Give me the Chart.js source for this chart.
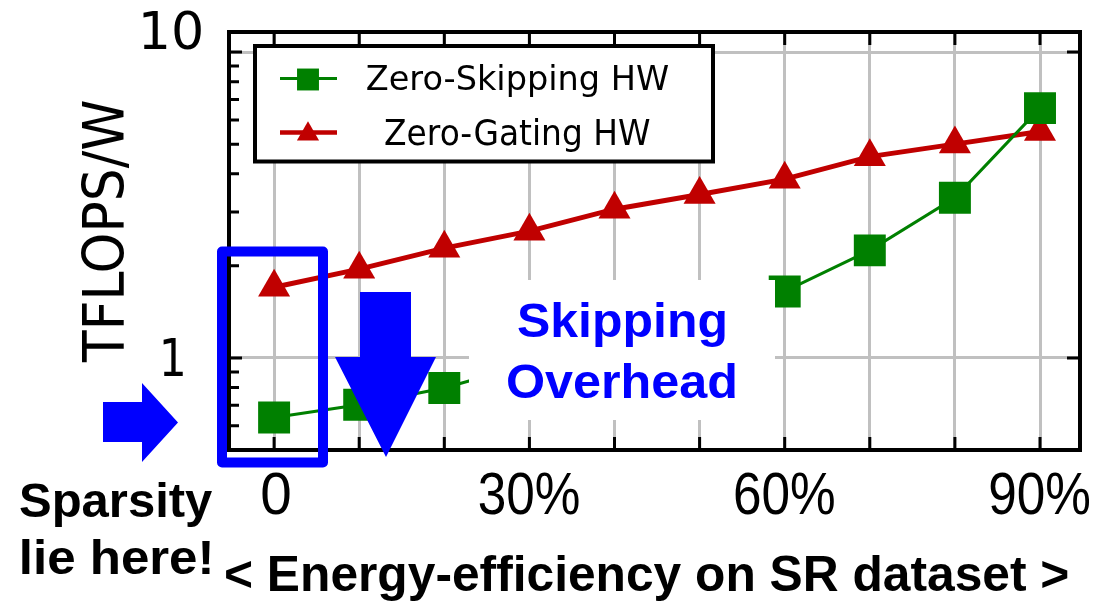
<!DOCTYPE html>
<html><head><meta charset="utf-8">
<script src="https://cdn.jsdelivr.net/npm/chart.js@4.4.0/dist/chart.umd.min.js"></script>
<style>html,body{margin:0;padding:0;background:#fff;overflow:hidden}#wrap{width:1112px;height:603px;position:relative}</style>
</head><body><div id="wrap"><canvas id="c" width="1112" height="603"></canvas></div>
<script>
// ---- data ----
const sparsityPct = [0, 10, 20, 30, 40, 50, 60, 70, 80, 90];
const zeroSkipping = [0.639, 0.703, 0.797, null, null, null, 1.650, 2.247, 3.338, 6.557];
const zeroGating = [1.703, 1.951, 2.285, 2.597, 3.064, 3.420, 3.842, 4.551, 5.001, 5.495];
const seriesNames = ['Zero-Skipping HW', 'Zero-Gating HW'];
const xTickValues = [0, 10, 20, 30, 40, 50, 60, 70, 80, 90];
const xLabelValues = [0, 30, 60, 90];
const xLabelTexts = ['0', '30%', '60%', '90%'];
const yMajorValues = [1, 10];
const yLabelTexts = ['1', '10'];
const yMinorValues = [0.6, 0.7, 0.8, 0.9, 2, 3, 4, 5, 6, 7, 8, 9];
const xTitle = '< Energy-efficiency on SR dataset >';
const yTitle = 'TFLOPS/W';
const noteText = ['Skipping', 'Overhead'];
const sideNote = ['Sparsity', 'lie here!'];

const GREEN = '#008000', RED = '#C00000', BLUE = '#0000FF';
const SANS = '"Liberation Sans", Arial, sans-serif';
const HUM = '"DejaVu Sans", "Noto Sans", sans-serif';

function fitText(ctx, txt, o) {
  const capRatio = o.capRatio || 0.716;
  const size = o.cap / capRatio;
  ctx.font = `${o.weight || 'normal'} ${size}px ${o.family || SANS}`;
  ctx.textAlign = 'left';
  ctx.textBaseline = 'alphabetic';
  const m = ctx.measureText(txt);
  const ink = m.actualBoundingBoxLeft + m.actualBoundingBoxRight;
  let left = o.left, width = o.width;
  if (o.cx !== undefined) left = o.cx - width / 2;
  const sx = width / ink;
  ctx.save();
  ctx.fillStyle = o.color || '#000';
  ctx.translate(left, o.base);
  ctx.scale(sx, 1);
  ctx.fillText(txt, m.actualBoundingBoxLeft, 0);
  ctx.restore();
}

const decor = {
  id: 'decor',
  afterDatasetsDraw(chart) {
    const ctx = chart.ctx, a = chart.chartArea;
    const xs = chart.scales.x, ys = chart.scales.y;
    ctx.save();
    // white box behind annotation
    ctx.fillStyle = '#fff';
    ctx.fillRect(469, 280, 306, 140);
    fitText(ctx, noteText[0], {cx: 621.5, width: 207, base: 336.5, cap: 35, weight: 'bold', color: BLUE});
    fitText(ctx, noteText[1], {cx: 621.5, width: 227, base: 397.5, cap: 35, weight: 'bold', color: BLUE});

    // frame
    ctx.strokeStyle = '#000';
    ctx.lineWidth = 4;
    ctx.strokeRect(a.left, a.top, a.right - a.left, a.bottom - a.top);
    ctx.lineWidth = 3;
    ctx.beginPath();
    xTickValues.forEach(v => {
      const x = xs.getPixelForValue(v);
      ctx.moveTo(x, a.top); ctx.lineTo(x, a.top + 13);
      ctx.moveTo(x, a.bottom); ctx.lineTo(x, a.bottom - 13);
    });
    yMajorValues.forEach(v => {
      const y = ys.getPixelForValue(v);
      ctx.moveTo(a.left, y); ctx.lineTo(a.left + 13, y);
      ctx.moveTo(a.right, y); ctx.lineTo(a.right - 13, y);
    });
    yMinorValues.forEach(v => {
      const y = ys.getPixelForValue(v);
      ctx.moveTo(a.left, y); ctx.lineTo(a.left + 10, y);
    });
    ctx.stroke();

    // legend
    ctx.fillStyle = '#fff';
    ctx.fillRect(255, 46, 458, 115.5);
    ctx.lineWidth = 4;
    ctx.strokeStyle = '#000';
    ctx.strokeRect(255, 46, 458, 115.5);
    const ds = chart.data.datasets;
    const rows = [78.5, 132.5];
    ds.forEach((d, i) => {
      const y = rows[i];
      ctx.strokeStyle = d.borderColor;
      ctx.lineWidth = i === 0 ? 3 : 4.5;
      ctx.beginPath(); ctx.moveTo(280, y); ctx.lineTo(337, y); ctx.stroke();
      ctx.fillStyle = d.backgroundColor;
      Chart.helpers.drawPoint(ctx, {pointStyle: d.pointStyle, radius: i === 0 ? 15.5 : 12.8, rotation: 0, borderWidth: 0}, 308, i === 0 ? 79.5 : 134);
    });
    fitText(ctx, ds[0].label, {left: 366.7, width: 301.6, base: 90, cap: 25, family: HUM, capRatio: 0.729});
    fitText(ctx, ds[1].label, {left: 385, width: 265, base: 144.5, cap: 25.5, family: HUM, capRatio: 0.729});

    // blue rectangle around 0%
    ctx.strokeStyle = BLUE;
    ctx.lineWidth = 10;
    ctx.lineJoin = 'round';
    ctx.strokeRect(222, 251.5, 101, 211);

    // blue down arrow
    ctx.fillStyle = BLUE;
    ctx.beginPath();
    ctx.moveTo(360, 292); ctx.lineTo(411, 292); ctx.lineTo(411, 357); ctx.lineTo(436, 357);
    ctx.lineTo(386, 457); ctx.lineTo(335, 357); ctx.lineTo(360, 357); ctx.closePath();
    ctx.fill();
    // blue right arrow
    ctx.beginPath();
    ctx.moveTo(103, 402); ctx.lineTo(142, 402); ctx.lineTo(142, 383); ctx.lineTo(178, 422.5);
    ctx.lineTo(142, 462); ctx.lineTo(142, 442); ctx.lineTo(103, 442); ctx.closePath();
    ctx.fill();

    // y tick labels
    yMajorValues.forEach((v, i) => {
      const cy = v === 10 ? a.top - 2 : ys.getPixelForValue(v);
      const txt = yLabelTexts[i];
      fitText(ctx, txt, {cx: 172 + (txt.length === 1 ? 1 : 0), width: txt.length === 1 ? 20 : 58, base: cy + 18.5, cap: 37, family: HUM, capRatio: 0.729});
    });
    // x tick labels
    xLabelValues.forEach((v, i) => {
      const txt = xLabelTexts[i];
      const x = xs.getPixelForValue(v);
      fitText(ctx, txt, {cx: x + (txt.length === 1 ? 2 : 0), width: txt.length === 1 ? 28 : 100, base: 514, cap: 42});
    });
    // axis titles
    ctx.save();
    ctx.translate(124, 363);
    ctx.rotate(-Math.PI / 2);
    fitText(ctx, yTitle, {left: 0, width: 262, base: 0, cap: 41, family: HUM, capRatio: 0.729});
    ctx.restore();
    fitText(ctx, xTitle, {left: 226, width: 842, base: 591, cap: 36, weight: 'bold'});
    // side note
    fitText(ctx, sideNote[0], {left: 20, width: 193, base: 517, cap: 34, weight: 'bold'});
    fitText(ctx, sideNote[1], {left: 22, width: 188, base: 574, cap: 35, weight: 'bold'});
    ctx.restore();
  }
};

new Chart(document.getElementById('c'), {
  type: 'line',
  data: {
    datasets: [
      {
        label: seriesNames[0],
        data: sparsityPct.map((x, i) => ({x, y: zeroSkipping[i]})),
        borderColor: GREEN, backgroundColor: GREEN, borderWidth: 3,
        pointStyle: 'rect', pointRadius: 22.6, pointHoverRadius: 22.6, pointBorderWidth: 0,
        spanGaps: true
      },
      {
        label: seriesNames[1],
        data: sparsityPct.map((x, i) => ({x, y: zeroGating[i]})),
        borderColor: RED, backgroundColor: RED, borderWidth: 5,
        pointStyle: 'triangle', pointRadius: 18.5, pointHoverRadius: 18.5, pointBorderWidth: 0
      }
    ]
  },
  options: {
    responsive: false, animation: false,
    layout: {padding: {left: 229, right: 32, top: 32, bottom: 153}},
    plugins: {legend: {display: false}, tooltip: {enabled: false}},
    scales: {
      x: {
        type: 'linear', min: -5.3, max: 94.7,
        afterBuildTicks: ax => { ax.ticks = xTickValues.map(v => ({value: v})); },
        ticks: {display: false},
        grid: {color: '#c0c0c0', lineWidth: 3, drawTicks: false},
        border: {display: false}
      },
      y: {
        type: 'logarithmic', min: 0.5, max: 11.63,
        afterBuildTicks: ax => { ax.ticks = yMajorValues.map(v => ({value: v})); },
        ticks: {display: false},
        grid: {color: '#c0c0c0', lineWidth: 3, drawTicks: false},
        border: {display: false}
      }
    }
  },
  plugins: [decor]
});
</script></body></html>
